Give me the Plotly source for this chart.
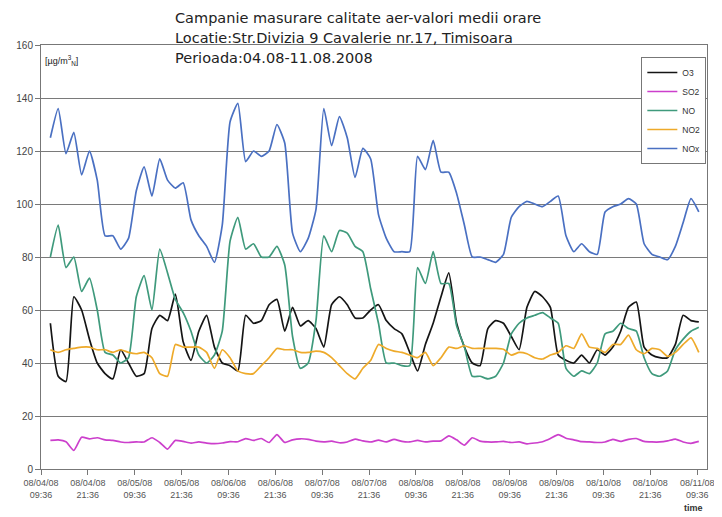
import pandas as pd
import plotly.graph_objects as go

# 2-hourly readings, 08/04/2008 12:00 -> 08/11/2008 10:00
times = pd.date_range("2008-08-04 12:00", periods=84, freq="2h")

nox = [125, 136, 119, 127, 111, 120, 109, 88, 88, 83,
       87, 105, 114, 103, 117, 109, 106, 108, 94, 88,
       84, 78, 92, 131, 138, 116, 120, 118, 120, 130,
       123, 89, 82, 87, 98, 136, 122, 133, 125, 110,
       121, 117, 96, 87, 82, 82, 82, 118, 113, 124,
       112, 112, 104, 92, 80, 80, 79, 78, 81, 95,
       99, 101, 100, 99, 101, 103, 88, 82, 85, 82,
       81, 97, 99, 100, 102, 100, 85, 81, 80, 79,
       84, 93, 102, 97]

no = [80, 92, 76, 80, 67, 72, 60, 44, 43, 40,
      42, 65, 73, 60, 83, 74, 64, 59, 52, 43,
      40, 43, 52, 86, 95, 83, 85, 80, 80, 84,
      77, 50, 38, 40, 56, 88, 82, 90, 89, 84,
      82, 68, 55, 40, 40, 39, 39, 76, 70, 82,
      70, 70, 54, 46, 35, 35, 34, 35, 40, 51,
      55, 57, 58, 59, 57, 55, 38, 35, 37, 36,
      40, 51, 52, 55, 53, 52, 42, 36, 35, 37,
      45, 49, 52, 53.5]

o3 = [55, 35, 33, 65, 60, 49, 40, 36, 34, 45,
      40, 35, 36, 53, 58, 56, 66, 48, 41, 52,
      58, 46, 40, 39, 37, 58, 55, 56, 62, 64,
      52, 61, 54, 56, 53, 46, 62, 65, 62, 57,
      57, 60, 62, 56, 53, 51, 44, 37, 47, 55,
      65, 74, 55, 46, 40, 39, 53, 56, 55, 50,
      45, 61, 67, 65, 61, 43, 41, 40, 43, 40,
      45, 43, 46, 52, 61, 63, 46, 43, 42, 42,
      47, 58, 56, 55.5]

no2 = [45, 44, 45, 45.5, 46, 46, 45, 45, 44, 45,
       44, 43.5, 44, 42, 36, 35, 47, 46, 46, 46,
       44, 38, 45, 42, 37, 36, 36, 39, 42, 45.5,
       45, 45, 44, 44, 44.5, 44, 42, 39, 36, 34,
       38, 41, 47, 45.5, 44.5, 44, 43, 42, 44, 39,
       42, 46, 45.5, 46.5, 45.5, 45.5, 45.5, 45.5, 45.2, 43,
       44, 43.5, 42, 41.5, 43, 44, 46.5, 45.5, 51, 46,
       45.5, 44, 47, 47, 50.5, 45, 43.5, 45.5, 45, 42.5,
       44, 47, 49.5, 44]

so2 = [10.8, 11, 10.3, 7, 12, 11.4, 11.8, 11, 10.8, 10.2,
       10, 10.2, 10.2, 11.8, 10, 7.5, 10.8, 10.4, 9.8, 10.2,
       9.8, 9.6, 9.8, 10.3, 10.3, 11.5, 10.8, 11.5, 10, 13,
       10, 11, 11.4, 11.2, 10.5, 10.2, 10.5, 9.9, 10.2, 11.3,
       10.6, 10.2, 10.9, 10.2, 11.2, 10.4, 10.2, 10.8, 10.2, 10.5,
       10.6, 12.5, 11, 9, 11.8, 10.5, 10.2, 10.2, 10.4, 10,
       10.2, 9.5, 9.8, 10.3, 11.5, 13, 11.6, 11, 10.3, 10.2,
       10, 10.2, 11.2, 10.4, 11.2, 11.5, 10.4, 10.2, 10.2, 10.6,
       11.3, 10.2, 9.7, 10.4]

series_names = ["O3", "SO2", "NO", "NO2", "NOx"]
series_values = [o3, so2, no, no2, nox]
series_colors = ["#151515", "#cc3fcc", "#3f9a7c", "#eeaa2a", "#4a70c2"]

tick_times = pd.date_range("2008-08-04 09:36", periods=15, freq="12h")
tick_labels = [t.strftime("%m/%d/%y") + "<br>" + t.strftime("%H:%M") for t in tick_times]

title_lines = ["Campanie masurare calitate aer-valori medii orare",
               "Locatie:Str.Divizia 9 Cavalerie nr.17, Timisoara",
               "Perioada:04.08-11.08.2008"]

fig = go.Figure()
for name, vals, col in zip(series_names, series_values, series_colors):
    fig.add_trace(go.Scatter(x=times, y=vals, mode="lines", name=name,
                             line=dict(color=col, width=1.7, shape="spline", smoothing=0.5)))

# page has an 8px body margin, so the figure is 8px smaller than the window
fig.update_layout(
    width=714, height=509,
    margin=dict(l=30, r=8, t=37, b=48),
    paper_bgcolor="white", plot_bgcolor="white",
    font=dict(family="Liberation Sans, Arial, sans-serif", color="#444"),
    showlegend=True,
    legend=dict(x=0.999, y=0.9717, xanchor="right", yanchor="top",
                bgcolor="white", bordercolor="#777", borderwidth=1,
                font=dict(size=8.5, color="#333"),
                itemwidth=30, tracegroupgap=0),
)

fig.update_xaxes(
    type="date",
    range=["2008-08-04 09:36", "2008-08-11 12:06"],
    tickvals=list(tick_times), ticktext=tick_labels,
    tickfont=dict(size=9, color="#555"),
    ticks="outside", ticklen=5, tickcolor="#777",
    ticklabeloverflow="allow",
    showgrid=False, showline=True, linecolor="#777", linewidth=1,
    mirror=True, zeroline=False,
)
fig.update_yaxes(
    range=[0, 160], dtick=20, tick0=0,
    tickfont=dict(size=10, color="#444"),
    ticks="outside", ticklen=5, tickcolor="#777",
    showgrid=True, gridcolor="#7a7a7a", gridwidth=1,
    showline=True, linecolor="#777", linewidth=1,
    mirror=True, zeroline=False,
)

title_y = [1.064, 1.0165, 0.969]
for txt, yy in zip(title_lines, title_y):
    fig.add_annotation(text=txt, xref="paper", yref="paper", x=0.198, y=yy,
                       xanchor="left", yanchor="middle", showarrow=False,
                       font=dict(family="DejaVu Sans, sans-serif", size=14.5, color="#222"))

fig.add_annotation(text="[µg/m<sup>3</sup><sub>N</sub>]", xref="paper", yref="paper",
                   x=0.003, y=0.963, xanchor="left", yanchor="middle", showarrow=False,
                   font=dict(size=9, color="#222"))
fig.add_annotation(text="<b>time</b>", xref="paper", yref="paper",
                   x=0.979, y=-0.092, xanchor="center", yanchor="middle", showarrow=False,
                   font=dict(size=9, color="#333"))

fig.write_html("out.html")
